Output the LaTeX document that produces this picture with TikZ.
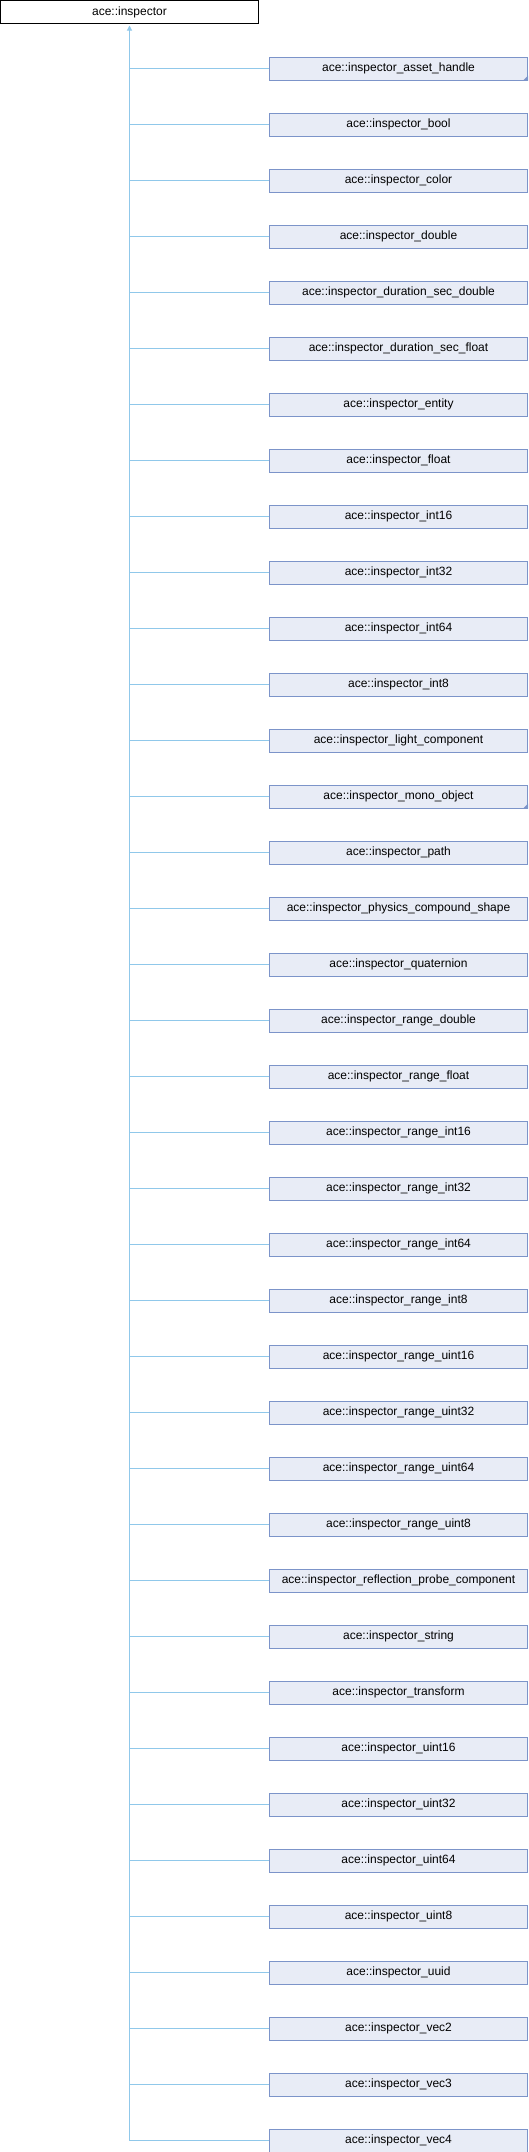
\documentclass[tikz,border=0pt]{standalone}
\usepackage{fontspec}
\setmainfont{Liberation Sans}
\usetikzlibrary{arrows.meta}
\definecolor{boxfill}{HTML}{E8ECF6}
\definecolor{boxdraw}{HTML}{7C94C9}
\definecolor{edgecol}{HTML}{90C8EA}
\begin{document}
\begin{tikzpicture}[x=1pt,y=-1pt,
  base/.style={draw=black,line width=1pt,fill=white,minimum width=258pt,minimum height=23pt,inner sep=0pt,font=\fontsize{12}{14}\selectfont},
  child/.style={draw=boxdraw,line width=1pt,fill=boxfill,minimum width=258pt,minimum height=23pt,inner sep=0pt,font=\fontsize{12}{14}\selectfont},
  edge/.style={draw=edgecol,line width=1pt},
  more/.style={fill=boxdraw}]
\useasboundingbox (0,0) rectangle (528,2152);
\node[base] (root) at (129.5,12) {ace::inspector};
\foreach \n [count=\i] in {asset\_handle,bool,color,double,duration\_sec\_double,duration\_sec\_float,entity,float,int16,int32,int64,int8,light\_component,mono\_object,path,physics\_compound\_shape,quaternion,range\_double,range\_float,range\_int16,range\_int32,range\_int64,range\_int8,range\_uint16,range\_uint32,range\_uint64,range\_uint8,reflection\_probe\_component,string,transform,uint16,uint32,uint64,uint8,uuid,vec2,vec3,vec4}{
  \node[child] (c\i) at (398.5,{68.5+56*(\i-1)}) {ace::inspector\_\n};
  \coordinate (t\i) at (129.5,{68.5+56*(\i-1)});
  \draw[edge] (t\i) -- (c\i.west);
}
\fill[more] (c1.south east) -- ++(-5,0) -- ++(5,-5) -- cycle;
\fill[more] (c14.south east) -- ++(-5,0) -- ++(5,-5) -- cycle;
\draw[edge,-{Triangle[width=5pt,length=5pt]},shorten >=1.5pt] (t38) -- (root.south);
\end{tikzpicture}
\end{document}
